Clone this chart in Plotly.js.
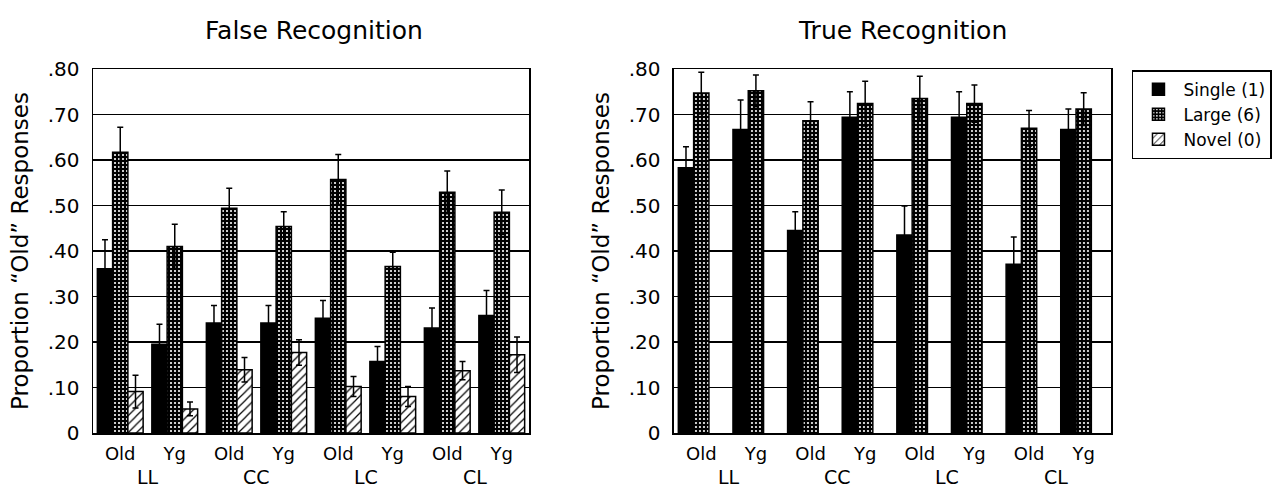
<!DOCTYPE html>
<html>
<head>
<meta charset="utf-8">
<script src="https://cdn.plot.ly/plotly-3.0.1.min.js"></script>
<style>html,body{margin:0;padding:0;background:#fff;}#chart{width:1278px;height:490px;}</style>
</head>
<body>
<div id="chart"></div>
<script>
// ---- data ----
const groups = ['LL', 'CC', 'LC', 'CL'];
const ages = ['Old', 'Yg'];
const yTickVals = [0, 0.1, 0.2, 0.3, 0.4, 0.5, 0.6, 0.7, 0.8];
const yTickText = ['0', '.10', '.20', '.30', '.40', '.50', '.60', '.70', '.80'];

// False recognition
const falseSingle = [0.361, 0.195, 0.242, 0.242, 0.252, 0.157, 0.231, 0.258];
const falseSingleErr = [0.064, 0.044, 0.038, 0.038, 0.039, 0.033, 0.044, 0.055];
const falseLarge = [0.617, 0.410, 0.494, 0.454, 0.557, 0.366, 0.529, 0.485];
const falseLargeErr = [0.055, 0.049, 0.044, 0.032, 0.055, 0.031, 0.047, 0.049];
const falseNovel = [0.091, 0.053, 0.139, 0.177, 0.102, 0.080, 0.137, 0.172];
const falseNovelErr = [0.036, 0.015, 0.027, 0.028, 0.022, 0.022, 0.020, 0.039];

// True recognition
const trueSingle = [0.583, 0.667, 0.445, 0.694, 0.435, 0.694, 0.371, 0.667];
const trueSingleErr = [0.046, 0.065, 0.041, 0.056, 0.064, 0.056, 0.060, 0.045];
const trueLarge = [0.747, 0.752, 0.686, 0.724, 0.735, 0.724, 0.670, 0.712];
const trueLargeErr = [0.046, 0.035, 0.042, 0.049, 0.049, 0.041, 0.039, 0.036];

const seriesNames = ['Single (1)', 'Large (6)', 'Novel (0)'];

// ---- build ----
const xCats = [];
const xTickText = [];
groups.forEach(g => ages.forEach(a => { xCats.push(g + '-' + a); xTickText.push(a); }));

const FONT = 'DejaVu Sans, Verdana, sans-serif';
const BW = 0.28;
const offsets = [-1.5 * BW, -0.5 * BW, 0.5 * BW];

const styles = [
  {color: '#000000'},
  {color: '#000000', pattern: {shape: '.', fgcolor: '#ffffff', bgcolor: '#000000', size: 4, solidity: 0.22, fillmode: 'replace'}},
  {color: '#ffffff', pattern: {shape: '/', fgcolor: '#000000', bgcolor: '#ffffff', size: 6, solidity: 0.2, fillmode: 'replace'}}
];

function barTrace(vals, errs, idx, xa, ya, showLegend) {
  const st = styles[idx];
  const marker = {color: st.color, line: {color: '#000', width: 1.5}};
  if (st.pattern) marker.pattern = st.pattern;
  return {
    type: 'bar', x: xCats, y: vals, name: seriesNames[idx],
    xaxis: xa, yaxis: ya, width: BW, offset: offsets[idx],
    marker: marker, showlegend: showLegend,
    error_y: {type: 'data', array: errs, visible: true, color: '#000', thickness: 1.5, width: 3},
    hoverinfo: 'y'
  };
}

const data = [
  barTrace(falseSingle, falseSingleErr, 0, 'x', 'y', true),
  barTrace(falseLarge, falseLargeErr, 1, 'x', 'y', true),
  barTrace(falseNovel, falseNovelErr, 2, 'x', 'y', true),
  barTrace(trueSingle, trueSingleErr, 0, 'x2', 'y2', false),
  barTrace(trueLarge, trueLargeErr, 1, 'x2', 'y2', false)
];

const xAxisBase = {
  type: 'category', categoryorder: 'array', categoryarray: xCats,
  tickmode: 'array', tickvals: xCats, ticktext: xTickText,
  range: [-0.5, 7.5], showgrid: false, zeroline: false,
  showline: true, linecolor: '#000', linewidth: 1.5, mirror: true,
  ticks: '', ticklabelstandoff: 4,
  tickfont: {family: FONT, size: 18, color: '#000'}, fixedrange: true
};
const yAxisBase = {
  range: [0, 0.8], tickmode: 'array', tickvals: yTickVals, ticktext: yTickText,
  showgrid: true, gridcolor: '#000', gridwidth: 1.6, zeroline: false,
  showline: true, linecolor: '#000', linewidth: 1.5, mirror: true,
  ticks: '', ticklabelstandoff: 8,
  tickfont: {family: FONT, size: 20, color: '#000'},
  title: {text: 'Proportion \u201cOld\u201d Responses', font: {family: FONT, size: 23, color: '#000'}, standoff: 12},
  automargin: false, fixedrange: true
};

const annotations = [];
['x', 'x2'].forEach((xa, k) => {
  groups.forEach((g, i) => {
    annotations.push({
      xref: xa, yref: (k === 0 ? 'y domain' : 'y2 domain'),
      x: 2 * i + 0.5, y: 0, yanchor: 'top', yshift: -31,
      text: g, showarrow: false, font: {family: FONT, size: 19, color: '#000'}
    });
  });
});
annotations.push({xref: 'x domain', yref: 'paper', x: 0.507, y: 1, yanchor: 'bottom', yshift: 22,
  text: 'False Recognition', showarrow: false, font: {family: FONT, size: 25, color: '#000'}});
annotations.push({xref: 'x2 domain', yref: 'paper', x: 0.524, y: 1, yanchor: 'bottom', yshift: 22,
  text: 'True Recognition', showarrow: false, font: {family: FONT, size: 25, color: '#000'}});

const layout = {
  width: 1278, height: 490,
  margin: {l: 93, r: 167, t: 69, b: 57, pad: 0, autoexpand: false},
  paper_bgcolor: '#fff', plot_bgcolor: '#fff',
  barmode: 'overlay',
  showlegend: true,
  legend: {
    x: 1.0206, y: 0.997, xanchor: 'left', yanchor: 'top',
    bordercolor: '#000', borderwidth: 1.5, bgcolor: '#fff',
    font: {family: FONT, size: 17, color: '#000'},
    itemwidth: 40, tracegroupgap: 0
  },
  xaxis: Object.assign({}, xAxisBase, {domain: [0, 0.4283], anchor: 'y'}),
  yaxis: Object.assign({}, yAxisBase, {anchor: 'x'}),
  xaxis2: Object.assign({}, xAxisBase, {domain: [0.5707, 1], anchor: 'y2'}),
  yaxis2: Object.assign({}, yAxisBase, {anchor: 'x2'}),
  annotations: annotations
};

Plotly.newPlot('chart', data, layout, {staticPlot: true, displayModeBar: false});
</script>
</body>
</html>
